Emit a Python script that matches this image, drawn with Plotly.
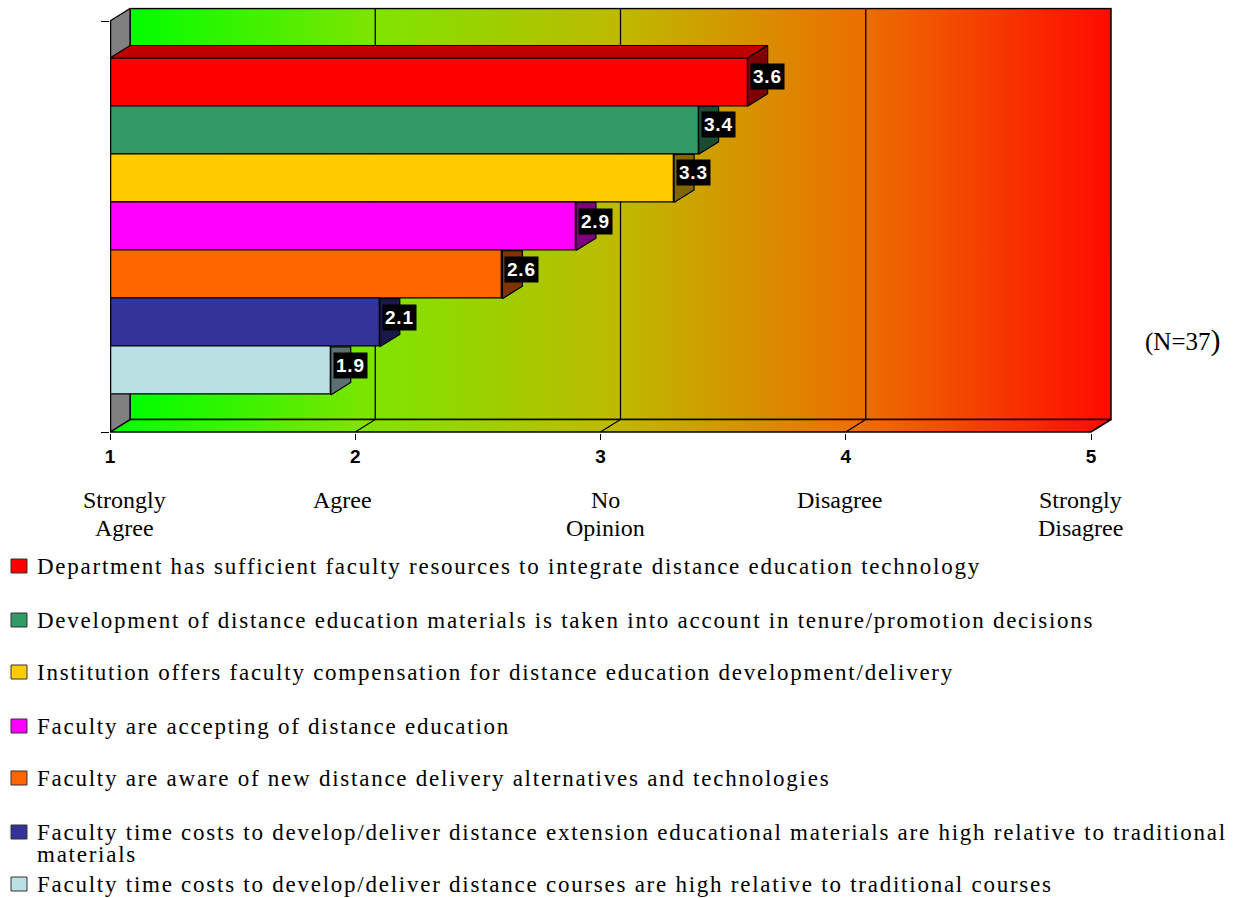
import plotly.graph_objects as go

# ---- data -------------------------------------------------------------
statements = [
    "Department has sufficient faculty resources to integrate distance education technology",
    "Development of distance education materials is taken into account in tenure/promotion decisions",
    "Institution offers faculty compensation for distance education development/delivery",
    "Faculty are accepting of distance education",
    "Faculty are aware of new distance delivery alternatives and technologies",
    "Faculty time costs to develop/deliver distance extension educational materials are high relative to traditional\nmaterials",
    "Faculty time costs to develop/deliver distance courses are high relative to traditional courses",
]
mean_scores = [3.6, 3.4, 3.3, 2.9, 2.6, 2.1, 1.9]
bar_colors = ["#FF0000", "#339966", "#FFCC00", "#FF00FF", "#FF6600", "#333399", "#BBE0E3"]

scale_values = [1, 2, 3, 4, 5]
scale_ticks = ["1", "2", "3", "4", "5"]
scale_words = ["Strongly\nAgree", "Agree", "No\nOpinion", "Disagree", "Strongly\nDisagree"]
sample_note = "(N=37"

# ---- geometry of the pseudo-3D box ------------------------------------
W, H = 1235, 898
PX_X = 245.25            # pixels per scale unit
PX_Y = 48.14             # pixels per bar slot
X_LEFT_PX = 110
Y_BOTTOM_PX = 432

DX = 20 / PX_X           # depth offset (x)
DY = 12.5 / PX_Y         # depth offset (y)
n = len(mean_scores)
GAP = 37 / PX_Y
Y0 = -0.5 - GAP
Y1 = (n - 0.5) + GAP
PADX = 1 / PX_X
PADY = 1 / PX_Y

x_range = [1, 5 + DX + PADX]
y_range = [Y0 - PADY, Y1 + DY + PADY]
x_dom = [X_LEFT_PX / W, (X_LEFT_PX + (x_range[1] - 1) * PX_X) / W]
y_bot_px = Y_BOTTOM_PX + 1
y_top_px = y_bot_px - (y_range[1] - y_range[0]) * PX_Y
y_dom = [1 - y_bot_px / H, 1 - y_top_px / H]

WALL_SCALE = [
    [0.0, "#00FF00"],
    [0.25, "#80E400"],
    [0.5, "#BEB900"],
    [0.75, "#EC6E00"],
    [1.0, "#FF0A00"],
]

SERIF = "Liberation Serif"
SANS = "Liberation Sans"


def shade(hex_color, f):
    h = hex_color.lstrip("#")
    r, g, b = (int(h[i:i + 2], 16) for i in (0, 2, 4))
    return "#%02X%02X%02X" % (int(r * f), int(g * f), int(b * f))


def ypix(px):
    return 1 - px / H


def spaced(text, px):
    return f"<span style='letter-spacing:{px}px'>{text}</span>"


fig = go.Figure()

# back wall
fig.add_trace(go.Scatter(
    x=[1 + DX, 5 + DX, 5 + DX, 1 + DX, 1 + DX],
    y=[Y0 + DY, Y0 + DY, Y1 + DY, Y1 + DY, Y0 + DY],
    mode="lines", fill="toself",
    fillgradient=dict(type="horizontal", colorscale=WALL_SCALE, start=1 + DX, stop=5 + DX),
    line=dict(color="black", width=1.5), hoverinfo="skip", showlegend=False,
))
# floor
fig.add_trace(go.Scatter(
    x=[1, 5, 5 + DX, 1 + DX, 1],
    y=[Y0, Y0, Y0 + DY, Y0 + DY, Y0],
    mode="lines", fill="toself",
    fillgradient=dict(type="horizontal", colorscale=WALL_SCALE, start=1, stop=5 + DX),
    line=dict(color="black", width=1.5), hoverinfo="skip", showlegend=False,
))
# gridlines on wall and floor
gx, gy = [], []
for k in scale_values[1:-1]:
    gx += [k + DX, k + DX, k, None]
    gy += [Y1 + DY, Y0 + DY, Y0, None]
fig.add_trace(go.Scatter(x=gx, y=gy, mode="lines", line=dict(color="black", width=1.3),
                         hoverinfo="skip", showlegend=False))
# left side wall
fig.add_trace(go.Scatter(
    x=[1, 1 + DX, 1 + DX, 1, 1],
    y=[Y0, Y0 + DY, Y1 + DY, Y1, Y0],
    mode="lines", fill="toself", fillcolor="#808080",
    line=dict(color="black", width=1.3), hoverinfo="skip", showlegend=False,
))

# ---- bars (overlay subplot so they sit on top of the box) -------------
for i, (name, v, c) in enumerate(zip(statements, mean_scores, bar_colors)):
    pos = n - 1 - i
    fig.add_trace(go.Bar(
        x=[v - 1], y=[pos], base=1, orientation="h", width=1,
        marker=dict(color=c, line=dict(color="black", width=1.3)),
        name=name.replace("\n", " "), showlegend=False,
        xaxis="x2", yaxis="y2", hoverinfo="skip",
    ))

for i, (v, c) in enumerate(zip(mean_scores, bar_colors)):
    pos = n - 1 - i
    b, t = pos - 0.5, pos + 0.5
    if i == 0:
        # top face of the uppermost bar
        fig.add_trace(go.Scatter(
            x=[1, v, v + DX, 1 + DX, 1], y=[t, t, t + DY, t + DY, t],
            mode="lines", fill="toself", fillcolor=shade(c, 0.75),
            line=dict(color="black", width=1.2), xaxis="x2", yaxis="y2",
            hoverinfo="skip", showlegend=False,
        ))
        sx = [v, v + DX, v + DX, v, v]
        sy = [b, b + DY, t + DY, t, b]
    else:
        sx = [v, v + DX, v + DX, v, v]
        sy = [b, b + DY, t, t, b]
    fig.add_trace(go.Scatter(
        x=sx, y=sy, mode="lines", fill="toself", fillcolor=shade(c, 0.5),
        line=dict(color="black", width=1.2), xaxis="x2", yaxis="y2",
        hoverinfo="skip", showlegend=False,
    ))

# vertical axis line
fig.add_trace(go.Scatter(x=[1, 1], y=[Y0, Y1], mode="lines",
                         line=dict(color="black", width=2.5), xaxis="x2", yaxis="y2",
                         hoverinfo="skip", showlegend=False))

annotations = []
# value labels
for i, v in enumerate(mean_scores):
    pos = n - 1 - i
    annotations.append(dict(
        x=v, y=pos + 5.5 / PX_Y, xref="x", yref="y", xanchor="left", yanchor="middle",
        xshift=2, text=spaced(f"{v:.1f}", 0.8), showarrow=False, bgcolor="black", borderpad=2,
        font=dict(family=SANS, size=19, color="white", weight="bold"),
    ))

# scale wording under the ticks
word_shift = [15, -13, 5, -6, -11]
for val, word, sh in zip(scale_values, scale_words, word_shift):
    for k, line in enumerate(word.split("\n")):
        annotations.append(dict(
            x=val, xref="x", xshift=sh, y=ypix(500 + 28 * k), yref="paper",
            xanchor="center", yanchor="middle", text=line, showarrow=False,
            font=dict(family=SERIF, size=24, color="black"),
        ))

# sample size note
annotations.append(dict(
    x=1182 / W, y=ypix(340), xref="paper", yref="paper", xanchor="center", yanchor="middle",
    text=sample_note + "<span style='font-size:30px'>)</span>", showarrow=False,
    font=dict(family=SERIF, size=25, color="black"),
))

# legend
shapes = []
legend_rows = [566, 620, 672, 726, 778, 832, 884]
for name, c, row in zip(statements, bar_colors, legend_rows):
    shapes.append(dict(type="rect", xref="paper", yref="paper",
                       x0=11 / W, x1=27 / W, y0=ypix(row + 7), y1=ypix(row - 7),
                       fillcolor=c, line=dict(color="#333333", width=1)))
    for k, line in enumerate(name.split("\n")):
        annotations.append(dict(
            x=35 / W, y=ypix(row + 22 * k), xref="paper", yref="paper",
            xanchor="left", yanchor="middle", text=spaced(line, 1.75), showarrow=False,
            font=dict(family=SERIF, size=23, color="black"),
        ))

axis_common = dict(showgrid=False, zeroline=False, showline=False, automargin=False)
fig.update_layout(
    width=W, height=H, autosize=False,
    margin=dict(l=0, r=0, t=0, b=0, pad=0),
    paper_bgcolor="white", plot_bgcolor="rgba(0,0,0,0)",
    barmode="overlay", bargap=0,
    showlegend=False,
    xaxis=dict(domain=x_dom, range=x_range, tickmode="array", tickvals=scale_values,
               ticktext=scale_ticks, ticks="outside", ticklen=6, tickcolor="black",
               tickwidth=1.3,
               tickfont=dict(family=SANS, size=19, color="black", weight="bold"),
               **axis_common),
    yaxis=dict(domain=y_dom, range=y_range, tickmode="array", tickvals=[Y0, Y1],
               ticks="outside", ticklen=8, tickcolor="black", tickwidth=1.3,
               showticklabels=False, **axis_common),
    xaxis2=dict(overlaying="x", range=x_range, visible=False, matches="x", automargin=False),
    yaxis2=dict(overlaying="y", range=y_range, visible=False, matches="y", automargin=False),
    annotations=annotations,
    shapes=shapes,
)

fig.write_html("out.html")
